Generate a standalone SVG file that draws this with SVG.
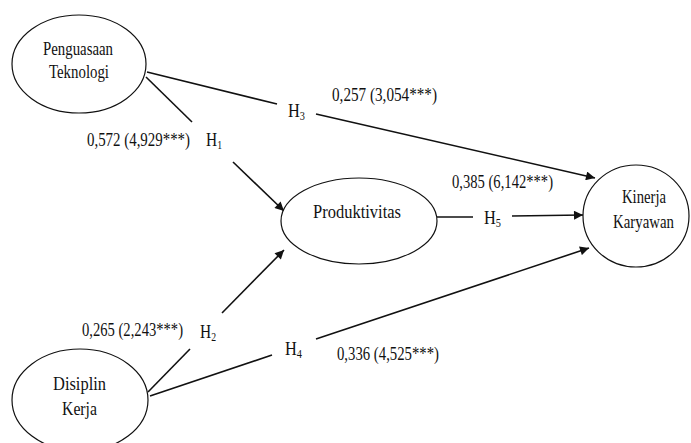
<svg xmlns="http://www.w3.org/2000/svg" width="691" height="443" viewBox="0 0 691 443">
<style>
text{font-family:"Liberation Serif","Times New Roman",serif;font-size:19px;fill:#111}
.n{text-anchor:middle}
ellipse{fill:#fff;stroke:#111;stroke-width:1.2}
line{stroke:#111;stroke-width:1.6}
.s{font-size:12px}
</style>
<defs>
<marker id="a" viewBox="0 0 10 10" refX="10" refY="5" markerWidth="10" markerHeight="9" markerUnits="userSpaceOnUse" orient="auto">
<path d="M0,0 L10,5 L0,10 Z" fill="#111"/>
</marker>
</defs>
<g id="connectors">
<line x1="146" y1="77" x2="192" y2="122"/>
<line x1="233" y1="162" x2="284" y2="211" marker-end="url(#a)"/>
<line x1="147" y1="72" x2="277" y2="104"/>
<line x1="316" y1="114" x2="595" y2="178" marker-end="url(#a)"/>
<line x1="437" y1="217" x2="473" y2="217"/>
<line x1="512" y1="216" x2="583" y2="215" marker-end="url(#a)"/>
<line x1="148" y1="392" x2="190" y2="349"/>
<line x1="222" y1="313" x2="284" y2="250" marker-end="url(#a)"/>
<line x1="150" y1="396" x2="272" y2="355"/>
<line x1="316" y1="339" x2="589" y2="248" marker-end="url(#a)"/>
<text x="206" y="146" textLength="16" lengthAdjust="spacingAndGlyphs">H<tspan class="s" dy="3">1</tspan></text>
<text x="87" y="146" textLength="103" lengthAdjust="spacingAndGlyphs">0,572 (4,929***)</text>
<text x="288" y="117" textLength="17" lengthAdjust="spacingAndGlyphs">H<tspan class="s" dy="3">3</tspan></text>
<text x="332" y="101" textLength="105" lengthAdjust="spacingAndGlyphs">0,257 (3,054***)</text>
<text x="484" y="224" textLength="17" lengthAdjust="spacingAndGlyphs">H<tspan class="s" dy="3">5</tspan></text>
<text x="452" y="188" textLength="101" lengthAdjust="spacingAndGlyphs">0,385 (6,142***)</text>
<text x="200" y="338" textLength="16" lengthAdjust="spacingAndGlyphs">H<tspan class="s" dy="3">2</tspan></text>
<text x="82" y="336" textLength="101" lengthAdjust="spacingAndGlyphs">0,265 (2,243***)</text>
<text x="285" y="355" textLength="17" lengthAdjust="spacingAndGlyphs">H<tspan class="s" dy="3">4</tspan></text>
<text x="337" y="360" textLength="102" lengthAdjust="spacingAndGlyphs">0,336 (4,525***)</text>
</g>
<g id="penguasaan">
<ellipse cx="79" cy="64" rx="67" ry="49"/>
<text x="43" y="55" textLength="70" lengthAdjust="spacingAndGlyphs">Penguasaan</text>
<text x="49" y="78" textLength="60" lengthAdjust="spacingAndGlyphs">Teknologi</text>
</g>
<g id="produktivitas">
<ellipse cx="359" cy="221" rx="78" ry="43"/>
<text x="313" y="218" textLength="88" lengthAdjust="spacingAndGlyphs">Produktivitas</text>
</g>
<g id="kinerja">
<ellipse cx="636" cy="216" rx="53" ry="51"/>
<text x="622" y="203" textLength="44" lengthAdjust="spacingAndGlyphs">Kinerja</text>
<text x="613" y="228" textLength="61" lengthAdjust="spacingAndGlyphs">Karyawan</text>
</g>
<g id="disiplin">
<ellipse cx="80" cy="400" rx="68" ry="51"/>
<text x="53" y="390" textLength="53" lengthAdjust="spacingAndGlyphs">Disiplin</text>
<text x="62" y="415" textLength="35" lengthAdjust="spacingAndGlyphs">Kerja</text>
</g>
</svg>
